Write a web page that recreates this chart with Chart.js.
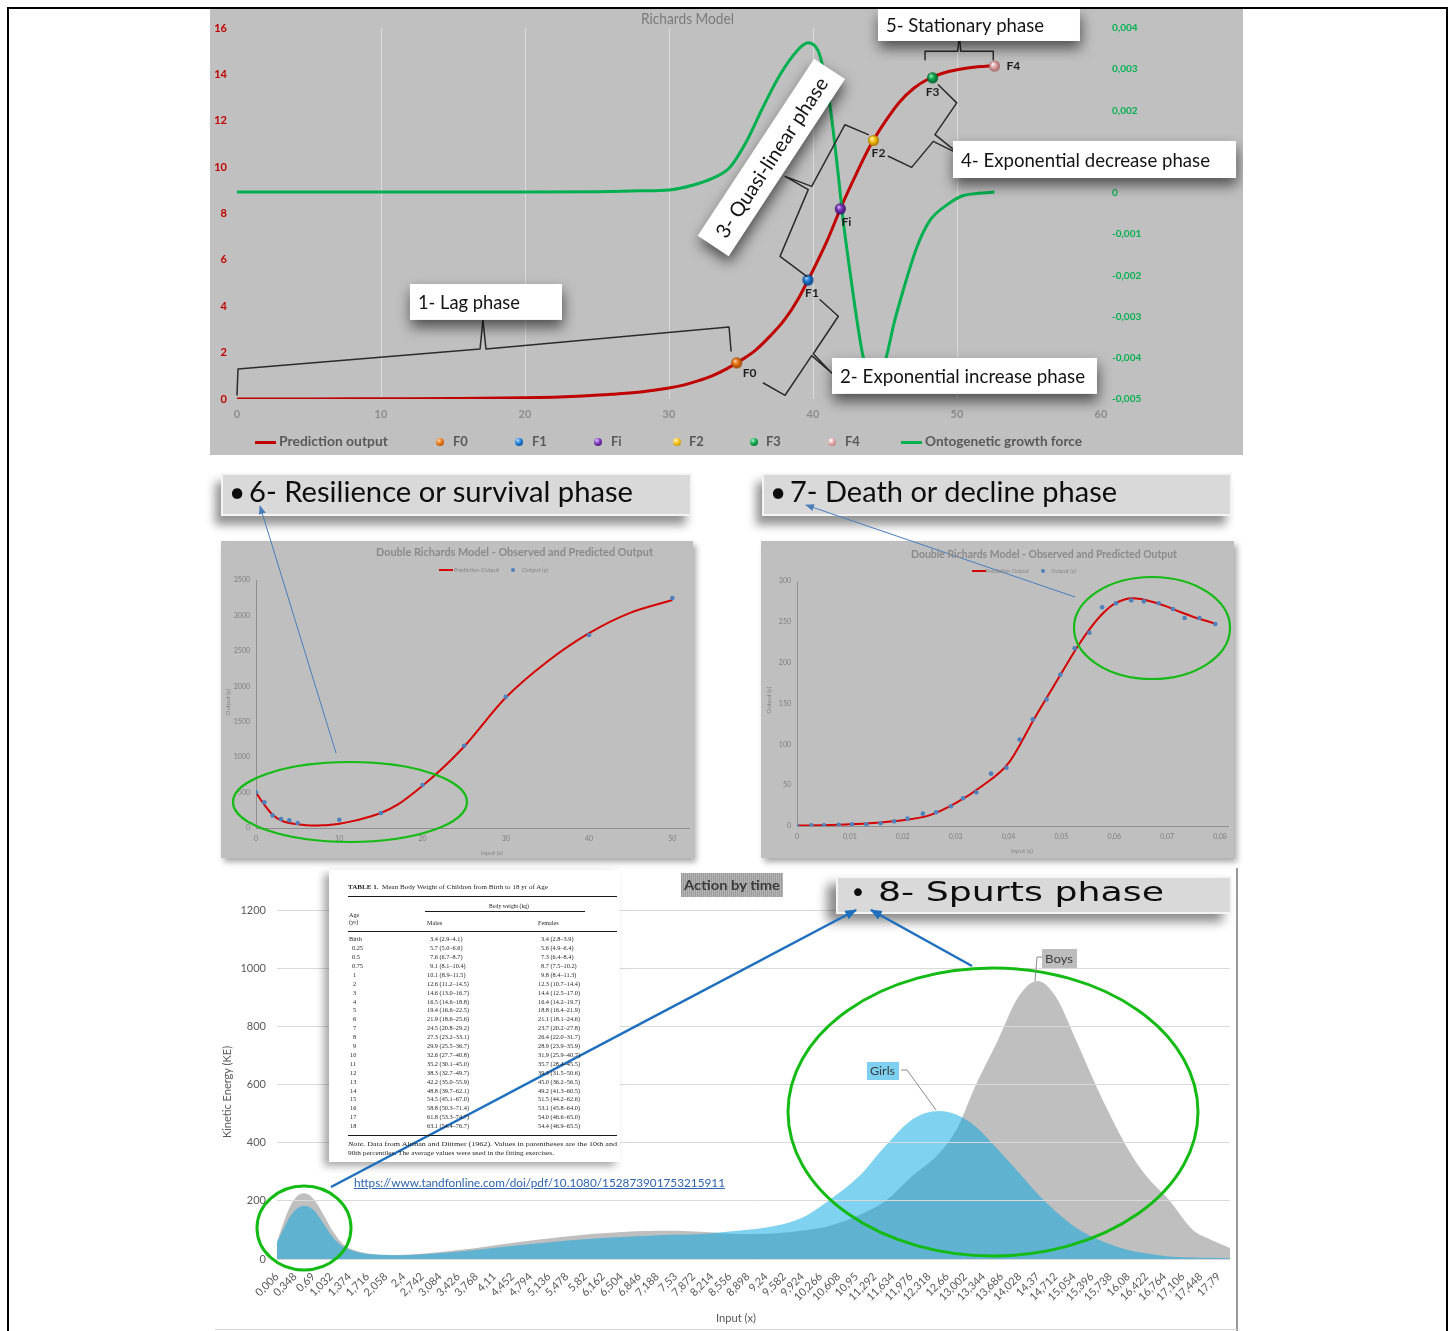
<!DOCTYPE html>
<html>
<head>
<meta charset="utf-8">
<title>Growth phases – Richards models and kinetic energy</title>
<script src="https://cdn.jsdelivr.net/npm/chart.js@4.4.1/dist/chart.umd.min.js"></script>
<style>
  html, body { margin: 0; padding: 0; background: #fff; }
  body { position: relative; width: 1453px; height: 1331px; overflow: hidden; font-family: Lato, "Open Sans", sans-serif; }
  .abs { position: absolute; }
  .t { position: absolute; white-space: nowrap; display: inline-block; }
  #frame { position: absolute; left: 7px; top: 7px; width: 1441px; height: 1400px; border: 2px solid #000; box-sizing: border-box; }
  .panel { position: absolute; background: #bfbfbf; box-shadow: 3px 4px 6px rgba(0,0,0,0.35); }
  .header { position: absolute; background: #d9d9d9; border: 2px solid #f4f4f4; box-sizing: border-box; box-shadow: -6px 9px 9px rgba(0,0,0,0.42); }
  canvas { position: absolute; left: 0; top: 0; }
  .rule { position: absolute; background: #1a1a1a; }
</style>
</head>
<body>
<div id="frame"></div>

<!-- Richards model -->
<div class="abs" id="topPanel" style="left:210px;top:9px;width:1033px;height:446px;background:#c0c0c0;">
  <canvas id="cRich" width="1033" height="446"></canvas>
</div>

<!-- Double Richards panels -->
<div class="header" style="left:221px;top:473px;width:471px;height:43px;"></div>
<div class="header" style="left:762px;top:473px;width:470px;height:43px;"></div>
<div class="panel" style="left:221px;top:541px;width:472px;height:317px;"><canvas id="cSurv" width="472" height="317"></canvas></div>
<div class="panel" style="left:761px;top:541px;width:473px;height:317px;"><canvas id="cDecl" width="473" height="317"></canvas></div>

<!-- Kinetic energy -->
<div class="abs" style="left:210px;top:868px;width:1027px;height:463px;background:#fff;">
  <canvas id="cKE" width="1027" height="463"></canvas>
</div>
<div class="abs" style="left:1236px;top:868px;width:2px;height:463px;background:#9a9a9a;"></div>
<div class="abs" style="left:215px;top:1329px;width:1022px;height:1px;background:#d6d6d6;"></div>
<div class="abs" style="left:681px;top:873px;width:102px;height:24px;background:repeating-linear-gradient(90deg,#9c9c9c 0 1px,#b4b4b4 1px 2px);"></div>
<div class="abs" id="tableBox" style="left:329px;top:870px;width:291px;height:292px;background:#fff;box-shadow:-5px 4px 8px rgba(0,0,0,0.35);"></div>
<div class="header" style="left:836px;top:876px;width:396px;height:38px;box-shadow:-9px 8px 10px rgba(0,0,0,0.45);"></div>
<div class="abs" style="left:867px;top:1062px;width:32px;height:18px;background:#7dd0f0;"></div>
<div class="abs" style="left:1042px;top:949px;width:35px;height:19px;background:#bdbdbd;"></div>

<svg class="abs" style="left:0;top:0;" width="1453" height="1331">
  <defs>
    <marker id="headThin" viewBox="0 0 10 10" refX="9" refY="5" markerWidth="9" markerHeight="9" markerUnits="userSpaceOnUse" orient="auto">
      <path d="M0,1 L10,5 L0,9 z" fill="#4a7ebb"/>
    </marker>
    <marker id="headBold" viewBox="0 0 10 10" refX="9" refY="5" markerWidth="12" markerHeight="12" markerUnits="userSpaceOnUse" orient="auto">
      <path d="M0,1 L10,5 L0,9 z" fill="#1f6fbf"/>
    </marker>
  </defs>
  <!-- highlighted regions -->
  <ellipse cx="350" cy="802" rx="117" ry="40" fill="none" stroke="#14bb14" stroke-width="2.2"/>
  <ellipse cx="1152" cy="628" rx="78" ry="51" fill="none" stroke="#14bb14" stroke-width="2.2"/>
  <ellipse cx="304" cy="1228" rx="47" ry="42" fill="none" stroke="#14bb14" stroke-width="3"/>
  <ellipse cx="993" cy="1112" rx="205" ry="144" fill="none" stroke="#14bb14" stroke-width="3"/>
  <!-- pointers to the phase headings -->
  <line x1="336" y1="753" x2="260" y2="506" stroke="#4a7ebb" stroke-width="1" marker-end="url(#headThin)"/>
  <line x1="1075" y1="597" x2="806" y2="505" stroke="#4a7ebb" stroke-width="1" marker-end="url(#headThin)"/>
  <line x1="331" y1="1187" x2="856" y2="910" stroke="#1f6fbf" stroke-width="2.5" marker-end="url(#headBold)"/>
  <line x1="972" y1="966" x2="871" y2="910" stroke="#1f6fbf" stroke-width="2.5" marker-end="url(#headBold)"/>
  <!-- data label leaders -->
  <polyline points="901,1070 907,1070 936,1110" fill="none" stroke="#8a8a8a" stroke-width="1"/>
  <polyline points="1042,957 1037,957 1035,981" fill="none" stroke="#8a8a8a" stroke-width="1"/>
</svg>

<script>
// ---------------- Richards model: output and growth force ----------------
const richX = [0, 5, 10, 15, 20, 22, 24, 26, 28, 30, 31, 32, 33, 34, 35, 36, 37, 38, 39, 40, 41, 42, 43, 44, 45, 46, 47, 48, 49, 50, 51, 52, 52.6];
const richY = [0, 0, 0.01, 0.02, 0.05, 0.08, 0.13, 0.2, 0.3, 0.47, 0.6, 0.78, 1.0, 1.3, 1.67, 2.1, 2.7, 3.4, 4.35, 5.55, 6.85, 8.35, 9.7, 10.95, 11.95, 12.8, 13.4, 13.8, 14.05, 14.2, 14.3, 14.35, 14.38];
const forceX = [0, 10, 20, 25, 28, 30, 31.7, 33, 34.2, 35.4, 36.5, 37.7, 38.9, 39.65, 40.35, 40.7, 41.2, 41.7, 42.1, 42.6, 43.1, 43.5, 44.2, 44.7, 45.15, 45.6, 46.25, 47.2, 48.1, 49.3, 50.4, 51.5, 52.6];
const forceY = [0.00002, 0.00002, 0.00002, 0.00003, 0.00005, 0.00007, 0.00019, 0.00035, 0.00061, 0.00126, 0.00206, 0.00286, 0.00345, 0.00364, 0.00345, 0.00303, 0.00206, 0.00061, -0.00068, -0.00199, -0.0032, -0.004, -0.0046, -0.0044, -0.0039, -0.0032, -0.00238, -0.00133, -0.00068, -0.00029, -0.00007, -0.00001, 0.00002];
const keyNames = ['F0', 'F1', 'Fi', 'F2', 'F3', 'F4'];
const keyX = [34.7, 39.65, 41.9, 44.2, 48.3, 52.6];
const keyY = [1.56, 5.13, 8.2, 11.15, 13.85, 14.36];
const richXTicks = [0, 10, 20, 30, 40, 50, 60];
const richYTicks = [0, 2, 4, 6, 8, 10, 12, 14, 16];
const forceTicks = [-0.005, -0.004, -0.003, -0.002, -0.001, 0, 0.001, 0.002, 0.003, 0.004];

// ---------------- Double Richards: survival phase ----------------
const survObsX = [0, 1, 2, 3, 4, 5, 10, 15, 20, 25, 30, 40, 50];
const survObsY = [503, 362, 178, 127, 108, 70, 117, 211, 606, 1160, 1851, 2724, 3246];
const survFitX = [0, 1, 2, 3, 4, 5, 6, 7, 8, 9, 10, 12, 15, 17, 20, 22, 25, 30, 35, 40, 45, 50];
const survFitY = [500, 329, 188, 108, 70, 52, 40, 35, 38, 47, 61, 108, 211, 329, 597, 800, 1150, 1841, 2350, 2750, 3040, 3217];
const survXTicks = [0, 10, 20, 30, 40, 50];
const survYTicks = [0, 500, 1000, 1500, 2000, 2500, 3000, 3500];

// ---------------- Double Richards: decline phase ----------------
const declObsX = [0, 0.0027, 0.0051, 0.0079, 0.0104, 0.0131, 0.0158, 0.0184, 0.0209, 0.0238, 0.0263, 0.0291, 0.0314, 0.0339, 0.0367, 0.0396, 0.0421, 0.0446, 0.0472, 0.0498, 0.0525, 0.0553, 0.0577, 0.0603, 0.0632, 0.0656, 0.0684, 0.0711, 0.0733, 0.0761, 0.0791];
const declObsY = [0, 0.8, 0.8, 1.6, 2, 2, 3.3, 5.7, 9, 15.1, 16.7, 24.1, 33.9, 41.2, 64.1, 71.4, 106, 130.6, 155.1, 185.3, 217.6, 236.7, 267.8, 272.7, 276.3, 275.1, 272.7, 265.7, 254.7, 254.7, 247.3];
const declFitX = [0, 0.005, 0.01, 0.015, 0.02, 0.025, 0.03, 0.035, 0.04, 0.045, 0.05, 0.0525, 0.055, 0.0575, 0.06, 0.0635, 0.065, 0.0675, 0.07, 0.0725, 0.075, 0.0775, 0.079];
const declFitY = [0.5, 1, 2, 4, 7, 13, 28, 49, 77, 133, 187, 214, 238, 258, 272, 279, 278, 274, 268.6, 262, 256, 251, 248];
const declXTicks = [0, 0.01, 0.02, 0.03, 0.04, 0.05, 0.06, 0.07, 0.08];
const declYTicks = [0, 50, 100, 150, 200, 250, 300];

// ---------------- Kinetic energy by age ----------------
const keX = [0.006, 0.12, 0.25, 0.4, 0.52, 0.65, 0.78, 0.92, 1.06, 1.26, 1.5, 1.8, 2.2, 2.6, 3.1, 3.7, 4.3, 5.0, 5.6, 6.3, 6.9, 7.5, 8.1, 8.7, 9.3, 9.9, 10.4, 11.0, 11.5, 12.0, 12.5, 12.85, 13.2, 13.6, 14.0, 14.36, 14.7, 15.1, 15.6, 16.1, 16.4, 16.85, 17.3, 17.6, 18.0];
const boysKE = [59, 120, 180, 218, 226, 215, 185, 140, 95, 50, 28, 17, 14, 16, 24, 36, 52, 68, 80, 90, 96, 97, 93, 86, 87, 97, 112, 151, 200, 285, 362, 450, 598, 745, 900, 956, 905, 750, 545, 370, 290, 203, 100, 70, 38];
const girlsKE = [58, 100, 145, 175, 182, 175, 150, 112, 75, 42, 25, 16, 13, 15, 21, 30, 42, 55, 65, 74, 79, 83, 87, 97, 110, 140, 198, 285, 390, 480, 509, 495, 455, 380, 300, 225, 165, 107, 60, 30, 20, 9, 5, 4, 3];
const keXTicks = [0.006, 0.348, 0.69, 1.032, 1.374, 1.716, 2.058, 2.4, 2.742, 3.084, 3.426, 3.768, 4.11, 4.452, 4.794, 5.136, 5.478, 5.82, 6.162, 6.504, 6.846, 7.188, 7.53, 7.872, 8.214, 8.556, 8.898, 9.24, 9.582, 9.924, 10.266, 10.608, 10.95, 11.292, 11.634, 11.976, 12.318, 12.66, 13.002, 13.344, 13.686, 14.028, 14.37, 14.712, 15.054, 15.396, 15.738, 16.08, 16.422, 16.764, 17.106, 17.448, 17.79];
const keYTicks = [0, 200, 400, 600, 800, 1000, 1200];

// ---------------- Table 1: mean body weight (kg) ----------------
const tableAge = ['Birth', '0.25', '0.5', '0.75', '1', '2', '3', '4', '5', '6', '7', '8', '9', '10', '11', '12', '13', '14', '15', '16', '17', '18'];
const tableMales = ['3.4 (2.9–4.1)', '5.7 (5.0–6.6)', '7.6 (6.7–8.7)', '9.1 (8.1–10.4)', '10.1 (8.9–11.5)', '12.6 (11.2–14.5)', '14.6 (13.0–16.7)', '16.5 (14.6–18.8)', '19.4 (16.6–22.5)', '21.9 (18.6–25.6)', '24.5 (20.8–29.2)', '27.3 (23.2–33.1)', '29.9 (25.5–36.7)', '32.6 (27.7–40.8)', '35.2 (30.1–45.0)', '38.3 (32.7–49.7)', '42.2 (35.0–55.9)', '48.8 (39.7–62.1)', '54.5 (45.1–67.0)', '58.8 (50.3–71.4)', '61.8 (53.3–74.7)', '63.1 (54.4–76.7)'];
const tableFemales = ['3.4 (2.8–3.9)', '5.6 (4.9–6.4)', '7.3 (6.4–8.4)', '8.7 (7.5–10.2)', '9.8 (8.4–11.3)', '12.3 (10.7–14.4)', '14.4 (12.5–17.0)', '16.4 (14.2–19.7)', '18.8 (16.4–21.9)', '21.1 (18.1–24.6)', '23.7 (20.2–27.8)', '26.4 (22.0–31.7)', '28.9 (23.9–35.9)', '31.9 (25.9–40.7)', '35.7 (28.4–45.5)', '39.3 (31.5–50.6)', '45.0 (36.2–56.5)', '49.2 (41.3–60.5)', '51.5 (44.2–62.6)', '53.1 (45.8–64.0)', '54.0 (46.6–65.0)', '54.4 (46.9–65.5)'];

// ---------------- helpers ----------------
Chart.defaults.font.family = 'Lato';
const pts = (xs, ys) => xs.map((x, i) => ({ x, y: ys[i] }));
const comma = v => String(v).replace('.', ',');
const plain = v => String(v);
const fixW = w => s => { s.width = w; };
const fixH = h => s => { s.height = h; };
const setTicks = arr => s => { s.ticks = arr.map(v => ({ value: v })); };

function lab(text, x, yc, size, style, w, html) {
  const d = document.createElement('div');
  d.className = 't';
  if (html) d.innerHTML = text; else d.textContent = text;
  d.style.left = x + 'px';
  d.style.top = (yc - size * 0.6) + 'px';
  d.style.fontSize = size + 'px';
  d.style.lineHeight = (size * 1.2) + 'px';
  Object.assign(d.style, style || {});
  if (w) d.dataset.w = w;
  document.body.appendChild(d);
  return d;
}
function vlab(text, cx, cy, size, style) {
  const d = document.createElement('div');
  d.className = 't';
  d.textContent = text;
  Object.assign(d.style, { left: cx + 'px', top: cy + 'px', fontSize: size + 'px', lineHeight: '1',
    transform: 'translate(-50%,-50%) rotate(-90deg)' }, style || {});
  document.body.appendChild(d);
  return d;
}

// shaded marker balls for the key points
const ballShades = [
  ['#ffd6ab', '#e8771a', '#9c4300'],
  ['#b3dbff', '#1c7ad6', '#0b3f7a'],
  ['#dcbcff', '#7a35b5', '#3c1063'],
  ['#fff4b0', '#f6c21a', '#a87700'],
  ['#a6f2c2', '#10a650', '#055e2a'],
  ['#ffffff', '#e0a8a8', '#a46565']
];
function ball(sh, r) {
  const s = Math.ceil(2 * r + 2), c = document.createElement('canvas');
  c.width = c.height = s;
  const g = c.getContext('2d'), m = s / 2;
  const gr = g.createRadialGradient(m - r * 0.35, m - r * 0.4, r * 0.05, m, m, r);
  gr.addColorStop(0, sh[0]); gr.addColorStop(0.45, sh[1]); gr.addColorStop(1, sh[2]);
  g.fillStyle = gr; g.beginPath(); g.arc(m, m, r, 0, 2 * Math.PI); g.fill();
  return c;
}

// phase annotations, placed in the chart's own data units
const braces = [
  [[0.0, 0.17], [0.07, 1.29], [16.88, 2.16], [17.08, 3.41], [17.29, 2.16], [34.17, 3.11], [34.31, 2.07]],
  [[36.55, 0.69], [38.06, 0.16], [39.91, 1.87], [41.3, 1.12], [40.02, 1.95], [41.76, 3.57], [40.49, 4.28]],
  [[39.56, 5.29], [37.71, 6.15], [39.67, 9.03], [38.06, 9.6], [39.91, 9.17], [42.22, 11.83], [43.84, 11.4]],
  [[45.23, 10.47], [46.85, 9.99], [48.35, 11.11], [50.21, 10.54], [48.47, 11.4], [49.98, 12.77], [48.7, 13.55]],
  [[47.78, 14.63], [47.78, 15.0], [50.05, 15.0], [50.16, 15.71], [50.26, 15.0], [52.52, 15.0], [52.52, 14.63]]
];
const callouts = [
  { text: '1- Lag phase', x0: 12.01, x1: 22.57, y0: 4.96, y1: 3.41, textW: 102 },
  { text: '2- Exponential increase phase', x0: 41.32, x1: 59.72, y0: 1.77, y1: 0.22, textW: 245 },
  { text: '4- Exponential decrease phase', x0: 49.72, x1: 69.38, y0: 11.13, y1: 9.53, textW: 249 },
  { text: '5- Stationary phase', x0: 44.51, x1: 58.54, y0: 16.82, y1: 15.44, textW: 158 }
];
const quasiCallout = { text: '3- Quasi-linear phase', cx: 37.11, cy: 10.42, angle: -56.7, len: 212, thick: 37, textW: 188 };
const keyLabelOffset = [[13, 10], [4, 13], [6, 13], [5, 13], [0, 14], [19, 0]];

const phasePlugin = {
  id: 'phaseNotes',
  afterDatasetsDraw(chart) {
    const { ctx } = chart;
    const sx = chart.scales.x, sy = chart.scales.y;
    const px = v => sx.getPixelForValue(v), py = v => sy.getPixelForValue(v);
    ctx.save();
    ctx.strokeStyle = '#2b2b2b'; ctx.lineWidth = 1.5; ctx.lineJoin = 'round'; ctx.lineCap = 'round';
    braces.forEach(b => {
      ctx.beginPath();
      b.forEach(([x, y], i) => i ? ctx.lineTo(px(x), py(y)) : ctx.moveTo(px(x), py(y)));
      ctx.stroke();
    });
    ctx.fillStyle = '#1e1e1e'; ctx.font = 'bold 12px Lato'; ctx.textAlign = 'center'; ctx.textBaseline = 'middle';
    keyNames.forEach((n, i) => ctx.fillText(n, px(keyX[i]) + keyLabelOffset[i][0], py(keyY[i]) + keyLabelOffset[i][1]));

    const shadow = () => { ctx.shadowColor = 'rgba(0,0,0,0.6)'; ctx.shadowBlur = 14; ctx.shadowOffsetX = 1; ctx.shadowOffsetY = 7; };
    callouts.forEach(c => {
      const x0 = px(c.x0), x1 = px(c.x1), y0 = py(c.y0), y1 = py(c.y1);
      ctx.save(); shadow(); ctx.fillStyle = '#fff'; ctx.fillRect(x0, y0, x1 - x0, y1 - y0); ctx.restore();
      ctx.fillStyle = '#141414'; ctx.font = '20px Lato'; ctx.textAlign = 'left'; ctx.textBaseline = 'middle';
      ctx.fillText(c.text, x0 + 8, (y0 + y1) / 2 + 1, c.textW);
    });
    const q = quasiCallout;
    ctx.save();
    ctx.translate(px(q.cx), py(q.cy));
    ctx.rotate(q.angle * Math.PI / 180);
    ctx.save(); shadow(); ctx.fillStyle = '#fff'; ctx.fillRect(-q.len / 2, -q.thick / 2, q.len, q.thick); ctx.restore();
    ctx.fillStyle = '#141414'; ctx.font = '20px Lato'; ctx.textAlign = 'center'; ctx.textBaseline = 'middle';
    ctx.fillText(q.text, 0, 1, q.textW);
    ctx.restore();
    ctx.restore();
  }
};

// ---------------- Richards chart ----------------
new Chart(document.getElementById('cRich'), {
  type: 'scatter',
  data: {
    datasets: [
      { label: 'Prediction output', data: pts(richX, richY), showLine: true, borderColor: '#c00000', borderWidth: 3,
        pointRadius: 0, cubicInterpolationMode: 'monotone', yAxisID: 'y', order: 2 },
      ...keyNames.map((n, i) => ({ label: n, data: [{ x: keyX[i], y: keyY[i] }], pointStyle: ball(ballShades[i], 5.5),
        pointRadius: 6, yAxisID: 'y', order: 0 })),
      { label: 'Ontogenetic growth force', data: pts(forceX, forceY), showLine: true, borderColor: '#00b050', borderWidth: 3,
        pointRadius: 0, cubicInterpolationMode: 'monotone', yAxisID: 'y2', order: 1 }
    ]
  },
  options: {
    responsive: false, animation: false, events: [],
    layout: { padding: { top: 19, left: 0, right: 0, bottom: 0 } },
    plugins: { legend: { display: false }, tooltip: { enabled: false } },
    scales: {
      x: { type: 'linear', min: 0, max: 60, afterBuildTicks: setTicks(richXTicks), afterFit: fixH(56),
        grid: { color: c => (c.tick && c.tick.value > 0 && c.tick.value < 60) ? '#dadada' : 'rgba(0,0,0,0)', drawTicks: false },
        border: { display: false },
        ticks: { color: '#8c8c8c', font: { size: 11, weight: 'bold' }, padding: 9 } },
      y: { position: 'left', min: 0, max: 16, afterBuildTicks: setTicks(richYTicks), afterFit: fixW(27),
        grid: { display: false, drawTicks: false }, border: { display: false },
        ticks: { color: '#c00000', font: { size: 11, weight: 'bold' }, padding: 10 } },
      y2: { position: 'right', min: -0.005, max: 0.004, afterBuildTicks: setTicks(forceTicks), afterFit: fixW(142),
        grid: { display: false, drawTicks: false }, border: { display: false },
        ticks: { color: '#00b050', font: { size: 10, weight: 'bold' }, padding: 11, callback: v => comma(v) } }
    }
  },
  plugins: [phasePlugin]
});

// ---------------- Double Richards charts ----------------
function doubleRichards(id, obsX, obsY, fitX, fitY, xMax, xTicks, yMax, yTicks, dims) {
  return new Chart(document.getElementById(id), {
    type: 'scatter',
    data: {
      datasets: [
        { label: 'Prediction Output', data: pts(fitX, fitY), showLine: true, borderColor: '#d40000', borderWidth: 2,
          pointRadius: 0, cubicInterpolationMode: 'monotone', order: 1 },
        { label: 'Output (y)', data: pts(obsX, obsY), pointRadius: 2.3, backgroundColor: '#4f81bd', borderWidth: 0, order: 0 }
      ]
    },
    options: {
      responsive: false, animation: false, events: [],
      layout: { padding: { top: dims.top, right: dims.right, left: 0, bottom: 0 } },
      plugins: { legend: { display: false }, tooltip: { enabled: false } },
      scales: {
        x: { type: 'linear', min: 0, max: xMax, afterBuildTicks: setTicks(xTicks), afterFit: fixH(dims.xh),
          grid: { display: false, drawTicks: false }, border: { display: true, color: '#8f8f8f', width: 1 },
          ticks: { color: '#7f7f7f', font: { size: 7 }, padding: 7, callback: v => comma(v) } },
        y: { min: 0, max: yMax, afterBuildTicks: setTicks(yTicks), afterFit: fixW(dims.yw),
          grid: { display: false, drawTicks: false }, border: { display: true, color: '#8f8f8f', width: 1 },
          ticks: { color: '#7f7f7f', font: { size: 7 }, padding: 6, callback: plain } }
      }
    }
  });
}
doubleRichards('cSurv', survObsX, survObsY, survFitX, survFitY, 52, survXTicks, 3500, survYTicks, { top: 39, right: 1, xh: 30, yw: 35 });
doubleRichards('cDecl', declObsX, declObsY, declFitX, declFitY, 0.0816, declXTicks, 300, declYTicks, { top: 40, right: 2, xh: 32, yw: 36 });

// ---------------- Kinetic energy chart ----------------
new Chart(document.getElementById('cKE'), {
  type: 'scatter',
  data: {
    datasets: [
      { label: 'Girls', data: pts(keX, girlsKE), showLine: true, fill: 'origin', backgroundColor: 'rgba(0,165,226,0.5)',
        borderWidth: 0, borderColor: 'rgba(0,0,0,0)', pointRadius: 0, cubicInterpolationMode: 'monotone', order: 0 },
      { label: 'Boys', data: pts(keX, boysKE), showLine: true, fill: 'origin', backgroundColor: '#bfbfbf',
        borderWidth: 0, borderColor: 'rgba(0,0,0,0)', pointRadius: 0, cubicInterpolationMode: 'monotone', order: 1 }
    ]
  },
  options: {
    responsive: false, animation: false, events: [],
    layout: { padding: { top: 42, right: 7, left: 0, bottom: 0 } },
    plugins: { legend: { display: false }, tooltip: { enabled: false } },
    scales: {
      x: { type: 'linear', min: 0.006, max: 18, afterBuildTicks: setTicks(keXTicks), afterFit: fixH(72),
        grid: { display: false }, border: { display: false },
        ticks: { autoSkip: false, minRotation: 45, maxRotation: 45, color: '#595959', font: { size: 11 }, padding: 3,
          callback: v => comma(v) } },
      y: { min: 0, max: 1200, afterBuildTicks: setTicks(keYTicks), afterFit: fixW(67),
        grid: { color: '#d9d9d9', drawTicks: false, z: 1 }, border: { display: false },
        ticks: { color: '#595959', font: { size: 11 }, padding: 11, callback: plain } }
    }
  }
});

// ---------------- text: titles, legends, headings ----------------
const grey = { color: '#7a7a7a' };
lab('Richards Model', 641, 18, 15, grey, 93);
// legend of the Richards chart
const legendY = 442;
const legendBar = (x, color) => {
  const d = document.createElement('div');
  d.className = 'abs';
  Object.assign(d.style, { left: x + 'px', top: (legendY - 1.5) + 'px', width: '21px', height: '3px', background: color });
  document.body.appendChild(d);
};
const legendBall = (cx, sh) => {
  const d = document.createElement('div');
  d.className = 'abs';
  Object.assign(d.style, { left: (cx - 4) + 'px', top: (legendY - 4) + 'px', width: '8px', height: '8px', borderRadius: '50%',
    background: `radial-gradient(circle at 35% 30%, ${sh[0]} 0, ${sh[1]} 45%, ${sh[2]} 100%)` });
  document.body.appendChild(d);
};
const legStyle = { color: '#595959', fontWeight: 'bold' };
legendBar(255, '#c00000');
lab('Prediction output', 279, legendY, 13, legStyle, 109);
const legendBallX = [440, 519, 598, 677, 754, 832];
const legendTextX = [453, 532, 611, 689, 766, 845];
keyNames.forEach((n, i) => { legendBall(legendBallX[i], ballShades[i]); lab(n, legendTextX[i], legendY, 13, legStyle); });
legendBar(901, '#00b050');
lab('Ontogenetic growth force', 925, legendY, 13, legStyle, 157);

// phase headings
const headStyle = { color: '#0d0d0d' };
lab('•', 229, 492, 28, headStyle);
lab('6- Resilience or survival phase', 249, 492, 28, headStyle, 384);
lab('•', 770, 492, 28, headStyle);
lab('7- Death or decline phase', 790, 492, 28, headStyle, 327);
lab('•', 850, 893, 27, Object.assign({ fontFamily: '"DejaVu Sans"' }, headStyle));
lab('8- Spurts phase', 878, 892, 27, Object.assign({ fontFamily: '"DejaVu Sans"' }, headStyle), 286);

// Double Richards titles, legends and axis titles
const drTitle = { color: '#8a8a8a', fontWeight: 'bold' };
const drSmall = { color: '#858585' };
lab('Double Richards Model - Observed and Predicted Output', 376, 552, 10.5, drTitle, 277);
lab('Double Richards Model - Observed and Predicted Output', 911, 554, 10.5, drTitle, 266);
[[439, 570, 454, 45, 513, 522, 26], [972, 571, 986, 43, 1043, 1051, 25]].forEach(([lx, ly, tx, tw, dx, ox, ow]) => {
  const line = document.createElement('div');
  line.className = 'abs';
  Object.assign(line.style, { left: lx + 'px', top: (ly - 1) + 'px', width: '14px', height: '2px', background: '#d40000' });
  document.body.appendChild(line);
  lab('Prediction Output', tx, ly, 5.5, drSmall, tw);
  const dot = document.createElement('div');
  dot.className = 'abs';
  Object.assign(dot.style, { left: (dx - 2) + 'px', top: (ly - 2) + 'px', width: '4px', height: '4px', borderRadius: '50%', background: '#4f81bd' });
  document.body.appendChild(dot);
  lab('Output (y)', ox, ly, 5.5, drSmall, ow);
});
vlab('Output (y)', 228, 702, 6, drSmall);
vlab('Output (y)', 769, 700, 6, drSmall);
lab('Input (x)', 481, 853, 6, drSmall, 22);
lab('Input (x)', 1011, 851, 6, drSmall, 22);

// kinetic energy chart texts
lab('Action by time', 684, 885, 14, { color: '#3a3a3a', fontWeight: 'bold' }, 96);
vlab('Kinetic Energy (KE)', 226, 1092, 11, { color: '#595959' });
lab('Input (x)', 716, 1318, 11, { color: '#595959' }, 40);
lab('Girls', 870, 1071, 12, { color: '#3d3d3d' }, 25);
lab('Boys', 1045, 959, 12, { color: '#3d3d3d' }, 28);
lab('https://www.tandfonline.com/doi/pdf/10.1080/152873901753215911', 354, 1183, 12,
  { color: '#2f64b0', textDecoration: 'underline' }, 371);

// Table 1
const tStyle = { fontFamily: '"Liberation Serif", "DejaVu Serif", serif', color: '#1f1f1f' };
const rule = (x, y, w, h) => {
  const d = document.createElement('div');
  d.className = 'rule';
  Object.assign(d.style, { left: x + 'px', top: y + 'px', width: w + 'px', height: h + 'px' });
  document.body.appendChild(d);
};
lab('<b>TABLE 1.</b>&nbsp; Mean Body Weight of Children from Birth to 18 yr of Age', 348, 887, 6.2, tStyle, 200, true);
rule(348, 895.5, 269, 1.3);
lab('Body weight (kg)', 489, 906, 6.2, tStyle, 40);
rule(425, 911, 160, 0.7);
lab('Age', 349, 915, 6.2, tStyle);
lab('(yr)', 349, 922, 6.2, tStyle);
lab('Males', 427, 923, 6.2, tStyle);
lab('Females', 538, 923, 6.2, tStyle);
rule(348, 930.5, 269, 1.2);
tableAge.forEach((a, i) => {
  const y = 939 + i * 8.9;
  const ax = a === 'Birth' ? 349 : (a.length === 2 ? 350 : (a.includes('.') ? 352 : 353));
  lab(a, ax, y, 6.3, tStyle);
  const m = tableMales[i], f = tableFemales[i];
  lab(m, m.indexOf('.') === 1 ? 430 : 427, y, 6.3, tStyle);
  lab(f, f.indexOf('.') === 1 ? 541 : 538, y, 6.3, tStyle);
});
rule(348, 1134.5, 269, 1.3);
lab('<i>Note.</i> Data from Altman and Dittmer (1962). Values in parentheses are the 10th and', 348, 1144, 6.2, tStyle, 269, true);
lab('90th percentiles. The average values were used in the fitting exercises.', 348, 1153, 6.2, tStyle, 206);

// stretch/condense labels to their set widths
document.querySelectorAll('[data-w]').forEach(el => {
  const w = el.getBoundingClientRect().width;
  if (w > 0) {
    el.style.transformOrigin = '0 50%';
    el.style.transform = `scaleX(${(+el.dataset.w / w).toFixed(4)})`;
  }
});
</script>
</body>
</html>
